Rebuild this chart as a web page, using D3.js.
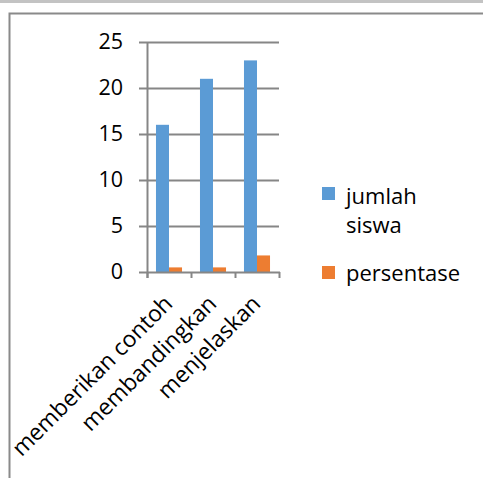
<!DOCTYPE html>
<html>
<head>
<meta charset="utf-8">
<script src="https://cdn.jsdelivr.net/npm/d3@7"></script>
<style>
  html, body { margin: 0; padding: 0; background: #fff; }
  svg { display: block; }
  text { font-family: "Open Sans", sans-serif; fill: #000; }
</style>
</head>
<body>
<svg id="chart" width="483" height="478"></svg>
<script>
// Categories, series and axis ticks
const categories = ["memberikan contoh", "membandingkan", "menjelaskan"];
const seriesNames = ["jumlah siswa", "persentase"];
const jumlahSiswa = [16, 21, 23];
const persentase = [0.5, 0.5, 1.8];
const yTicks = [0, 5, 10, 15, 20, 25];
const colors = ["#5b9bd5", "#ed7d31"];

const svg = d3.select("#chart");

// window frame: grey strip on top and the chart border
svg.append("rect").attr("x", 0).attr("y", 0).attr("width", 483).attr("height", 3).attr("fill", "#c3c3c3");
svg.append("path").attr("d", "M9.5,478 V13.5 H483")
  .attr("fill", "none").attr("stroke", "#8a8a8a").attr("stroke-width", 2);

const plot = { left: 147, right: 279, top: 42, bottom: 272 };

const x = d3.scaleBand().domain(categories).range([plot.left, plot.right]).padding(0);
const xs = d3.scaleBand().domain(seriesNames).range([0, x.bandwidth()]).paddingInner(0).paddingOuter(0.69);
const y = d3.scaleLinear().domain([0, 25]).range([plot.bottom, plot.top]);

// horizontal gridlines with tick stubs on the left
const grid = svg.append("g");
grid.selectAll("line").data(yTicks.filter(t => t > 0)).join("line")
  .attr("x1", plot.left - 8).attr("x2", plot.right)
  .attr("y1", d => Math.round(y(d)) + 0.5).attr("y2", d => Math.round(y(d)) + 0.5)
  .attr("stroke", "#868686").attr("stroke-width", 2);

// y axis labels
svg.append("g").selectAll("text").data(yTicks).join("text")
  .attr("x", plot.left - 24).attr("y", d => y(d) + 1)
  .attr("text-anchor", "end").attr("dominant-baseline", "middle")
  .attr("font-size", 21.5).text(d => d);

// bars
const series = [jumlahSiswa, persentase];
series.forEach((vals, si) => {
  svg.append("g").selectAll("rect").data(vals).join("rect")
    .attr("x", (d, i) => x(categories[i]) + xs(seriesNames[si]))
    .attr("width", xs.bandwidth())
    .attr("y", d => y(d))
    .attr("height", d => y(0) - y(d))
    .attr("fill", colors[si]);
});

// vertical axis and category axis
svg.append("line").attr("x1", plot.left + 0.5).attr("x2", plot.left + 0.5)
  .attr("y1", plot.top).attr("y2", plot.bottom + 6)
  .attr("stroke", "#868686").attr("stroke-width", 2);
svg.append("line").attr("x1", plot.left - 8).attr("x2", plot.right + 1)
  .attr("y1", plot.bottom + 0.5).attr("y2", plot.bottom + 0.5)
  .attr("stroke", "#868686").attr("stroke-width", 2);
const xTickPos = categories.map(c => x(c)).concat([plot.right]);
svg.append("g").selectAll("line").data(xTickPos).join("line")
  .attr("x1", d => d + 0.5).attr("x2", d => d + 0.5)
  .attr("y1", plot.bottom).attr("y2", plot.bottom + 6)
  .attr("stroke", "#868686").attr("stroke-width", 2);

// rotated category labels
svg.append("g").selectAll("text").data(categories).join("text")
  .attr("transform", d => `translate(${x(d) + x.bandwidth() / 2 + 5},305) rotate(-45)`)
  .attr("text-anchor", "end").attr("font-size", 22.8).text(d => d);

// legend
const legend = svg.append("g");
const legendRows = [
  { lines: ["jumlah", "siswa"], color: colors[0], sq: 187, base: 204 },
  { lines: ["persentase"], color: colors[1], sq: 266, base: 281 }
];
legendRows.forEach(r => {
  legend.append("rect").attr("x", 322).attr("y", r.sq).attr("width", 13).attr("height", 13).attr("fill", r.color);
  r.lines.forEach((t, k) => {
    legend.append("text").attr("x", 346).attr("y", r.base + k * 29).attr("font-size", 22).text(t);
  });
});
</script>
</body>
</html>
